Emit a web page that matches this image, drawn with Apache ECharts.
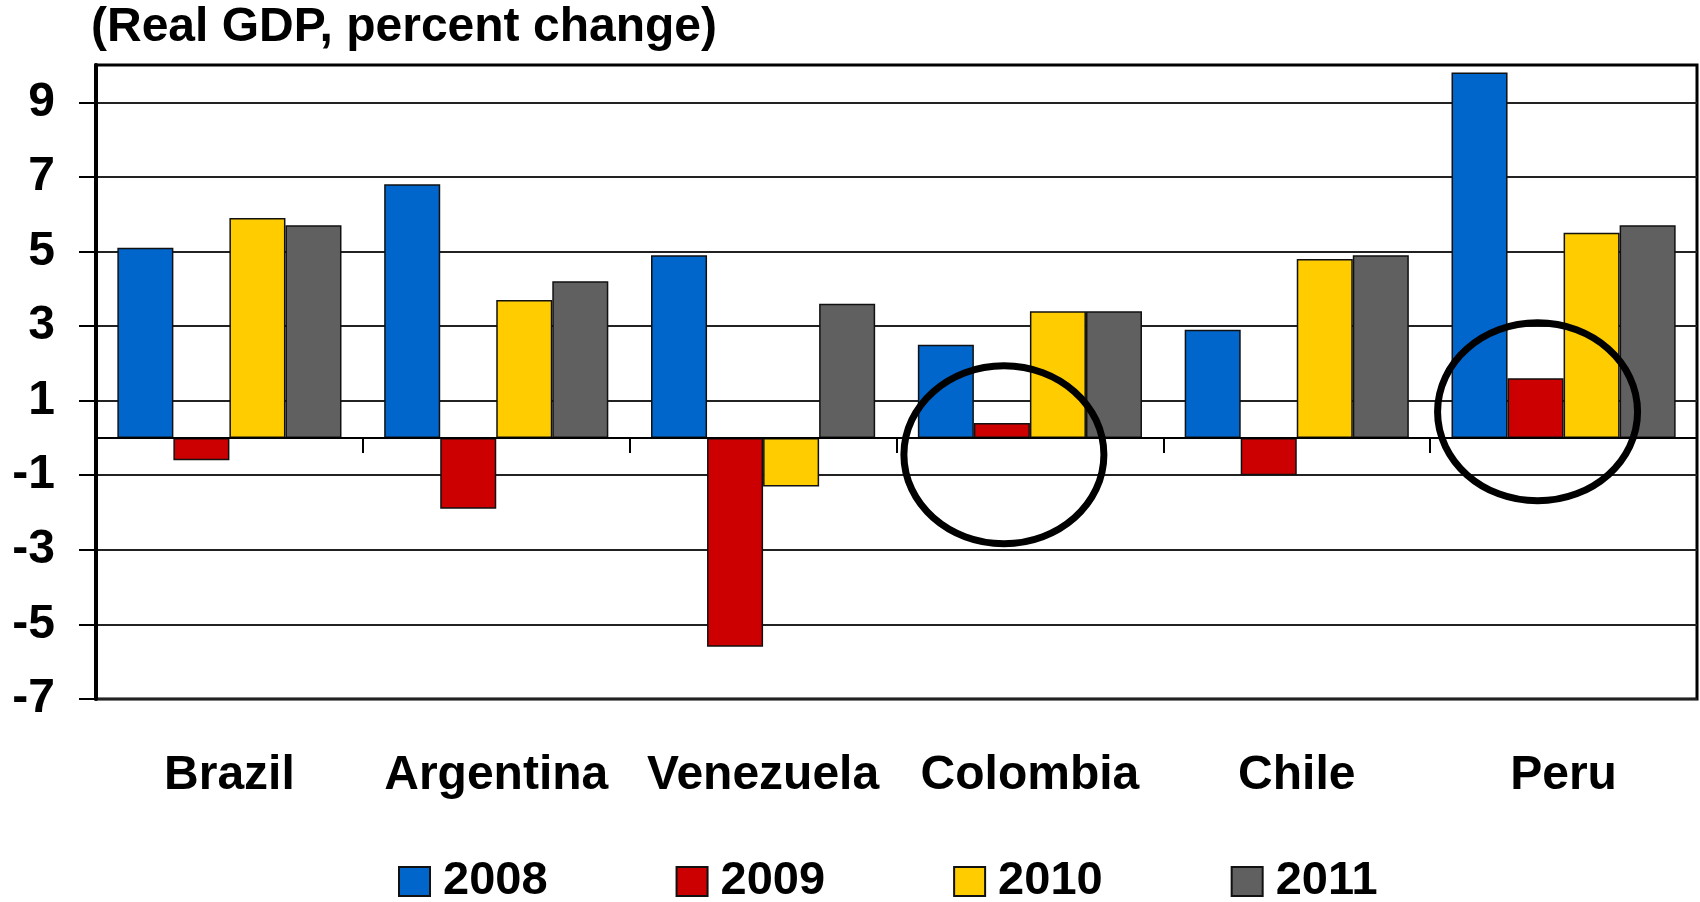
<!DOCTYPE html>
<html>
<head>
<meta charset="utf-8">
<title>Real GDP, percent change</title>
<script src="https://cdn.jsdelivr.net/npm/echarts@6/dist/echarts.min.js"></script>
<style>
  html, body { margin: 0; padding: 0; background: #ffffff; }
  #chart { width: 1700px; height: 902px; }
</style>
</head>
<body>
<div id="chart"></div>
<script>
// Countries and annual real GDP growth (percent)
const countries = ['Brazil', 'Argentina', 'Venezuela', 'Colombia', 'Chile', 'Peru'];
const years = ['2008', '2009', '2010', '2011'];
const gdp2008 = [5.1, 6.8, 4.9, 2.5, 2.9, 9.8];
const gdp2009 = [-0.6, -1.9, -5.6, 0.4, -1.0, 1.6];
const gdp2010 = [5.9, 3.7, -1.3, 3.4, 4.8, 5.5];
const gdp2011 = [5.7, 4.2, 3.6, 3.4, 4.9, 5.7];

// Value axis range and labelled ticks
const yMin = -7;
const yMax = 10;
const yTickValues = [-7, -5, -3, -1, 1, 3, 5, 7, 9];

// Countries ringed around their 2009 bar, with the ring's vertical centre
const ringedCountries = ['Colombia', 'Peru'];
const ringCentres = [-0.45, 0.7];

const seriesValues = [gdp2008, gdp2009, gdp2010, gdp2011];
const colors = ['#0066CC', '#CC0000', '#FFCC00', '#606060'];
const FONT = '"Liberation Sans", Arial, Helvetica, sans-serif';
const CATEGORY_GAP = 0.16;

const chart = echarts.init(document.getElementById('chart'), null, { renderer: 'canvas' });

const barSeries = years.map((y, i) => ({
  name: y,
  type: 'bar',
  xAxisIndex: 0,
  yAxisIndex: 0,
  data: seriesValues[i],
  barGap: '0%',
  barCategoryGap: (CATEGORY_GAP * 100) + '%',
  itemStyle: { color: colors[i], borderColor: '#111', borderWidth: 1.5 },
  emphasis: { disabled: true },
  z: 3
}));

// Black rings drawn around the 2009 bar of selected countries
const ringSeries = {
  type: 'custom',
  name: 'rings',
  xAxisIndex: 0,
  yAxisIndex: 0,
  silent: true,
  clip: false,
  z: 10,
  data: ringedCountries.map((c, i) => [countries.indexOf(c), ringCentres[i]]),
  renderItem(params, api) {
    const p = api.coord([api.value(0), api.value(1)]);
    const band = api.size([1, 0])[0];
    const barW = band * (1 - CATEGORY_GAP) / years.length;
    return {
      type: 'ellipse',
      shape: { cx: p[0] - barW / 2 + 2, cy: p[1], rx: 100, ry: 89 },
      style: { fill: 'none', stroke: '#000', lineWidth: 7 }
    };
  }
};

const option = {
  backgroundColor: '#ffffff',
  animation: false,
  title: {
    text: '(Real GDP, percent change)',
    left: 91,
    top: 0,
    padding: [2, 0, 0, 0],
    textStyle: { fontFamily: FONT, fontSize: 48, fontWeight: 'bold', color: '#000', lineHeight: 52 }
  },
  legend: {
    data: years,
    left: 398,
    top: 858,
    padding: 0,
    itemWidth: 31,
    itemHeight: 29,
    itemGap: 128,
    icon: 'rect',
    selectedMode: false,
    textStyle: { fontFamily: FONT, fontSize: 47, fontWeight: 'bold', color: '#000', lineHeight: 47, padding: [0, 0, 0, 8] }
  },
  grid: {
    left: 96,
    right: 3,
    top: 65,
    bottom: 203,
    show: true,
    borderColor: '#000',
    borderWidth: 3,
    backgroundColor: 'transparent',
    containLabel: false
  },
  xAxis: [
    {
      type: 'category',
      data: countries,
      position: 'bottom',
      boundaryGap: true,
      axisLine: { show: true, onZero: true, lineStyle: { color: '#000', width: 2 } },
      axisTick: { show: true, interval: 0, alignWithLabel: false, length: 15, lineStyle: { color: '#000', width: 2 } },
      axisLabel: { show: false },
      splitLine: { show: false },
      z: 5
    },
    {
      type: 'category',
      data: countries,
      position: 'bottom',
      boundaryGap: true,
      axisLine: { show: false, onZero: false },
      axisTick: { show: false },
      axisLabel: {
        show: true,
        interval: 0,
        margin: 53,
        fontFamily: FONT,
        fontSize: 48,
        fontWeight: 'bold',
        color: '#000'
      },
      splitLine: { show: false }
    }
  ],
  yAxis: {
    type: 'value',
    min: yMin,
    max: yMax,
    axisLine: { show: true, lineStyle: { color: '#000', width: 4 } },
    axisTick: { show: true, length: 17, customValues: yTickValues, lineStyle: { color: '#000', width: 2 } },
    axisLabel: {
      show: true,
      customValues: yTickValues,
      margin: 41,
      fontFamily: FONT,
      fontSize: 48,
      fontWeight: 'bold',
      color: '#000'
    },
    splitLine: { show: true, lineStyle: { color: '#222', width: 2 } }
  },
  series: barSeries.concat([ringSeries])
};

chart.setOption(option);
</script>
</body>
</html>
